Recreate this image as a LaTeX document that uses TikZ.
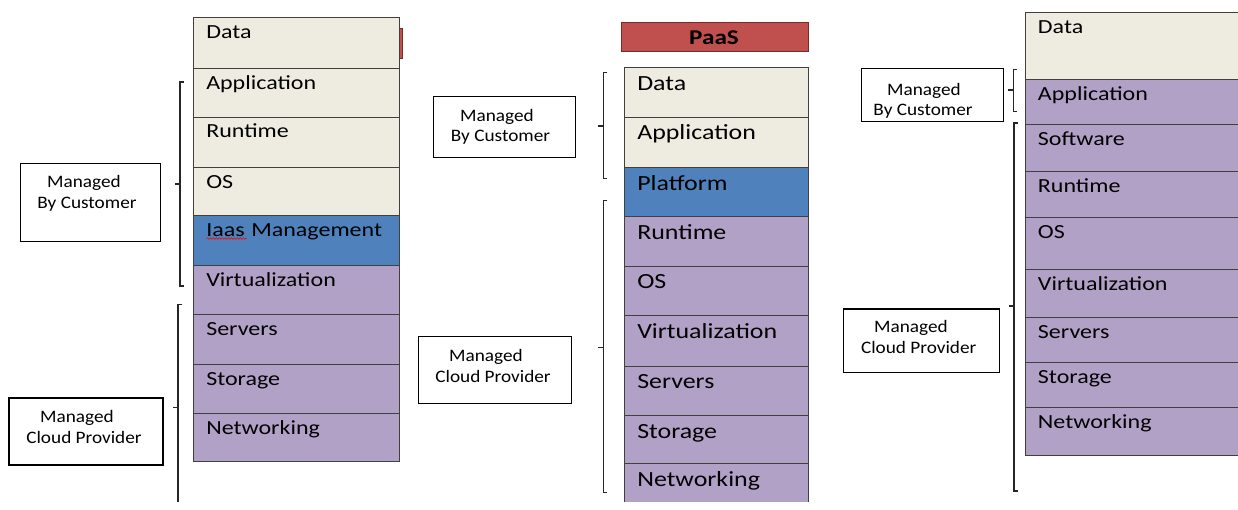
\documentclass[tikz,border=0pt]{standalone}
\usepackage{fontspec}
\usetikzlibrary{decorations.pathmorphing}

% Calibri-metric face, slightly widened
\newfontfamily\stackfont[FakeStretch=1.2]{Carlito}
\newfontfamily\boxfont[FakeStretch=1.1]{Carlito}

\definecolor{cream}{HTML}{EEECE1}
\definecolor{platblue}{HTML}{4F81BD}
\definecolor{lilac}{HTML}{B2A1C7}
\definecolor{headred}{HTML}{C0504D}
\definecolor{headedge}{HTML}{7A2A28}
\definecolor{rowline}{HTML}{404040}

\def\layerbase{21}
\def\layerfont{\stackfont\fontsize{20}{24}\selectfont}

\tikzset{
  layer/.style={draw=rowline, line width=0.9pt, anchor=north west,
    inner xsep=12.5pt, inner ysep=0pt, align=left,
    text height=\layerbase pt, font=\layerfont},
  side/.style={draw=black, line width=1.2pt, fill=white, anchor=north west,
    inner sep=0pt},
  sidetext/.style={font=\boxfont\fontsize{17.5}{20.7}\selectfont,
    anchor=base, inner sep=0pt},
  brace/.style={draw=black!85, line width=1.3pt},
  header/.style={draw=headedge, line width=1pt, fill=headred, anchor=north west,
    inner sep=0pt},
}

% one layer of a service stack: name, left, top, bottom, right, colour, text
\newcommand\layer[7]{%
  \pgfmathsetmacro\layerw{#5-#2-25}%
  \pgfmathsetmacro\layerd{#4-#3-\layerbase}%
  \node[layer, fill=#6, text width=\layerw pt, text depth=\layerd pt] (#1) at (#2,#3) {#7};%
}

% framed caption box: name, left, top, right, bottom
\newcommand\sidebox[5]{%
  \pgfmathsetmacro\sidew{#4-#2}%
  \pgfmathsetmacro\sideh{#5-#3}%
  \node[side, minimum width=\sidew pt, minimum height=\sideh pt] (#1) at (#2,#3) {};%
}

% square bracket with a centre stub: x, top, middle, bottom
\newcommand\bracketline[4]{%
  \draw[brace] (#1+4,#2) -- (#1,#2) -- (#1,#4) -- (#1+4,#4)
               (#1,#3) -- (#1-5,#3);%
}

\begin{document}
\begin{tikzpicture}[x=1pt, y=-1pt]
\fill[white] (0,0) rectangle (1238,509);
\useasboundingbox (0,0) rectangle (1238,509);

% ---------- IaaS stack ----------
\node[header, minimum width=208pt, minimum height=30pt] (iaashead) at (193.8,28) {};
\layer{iaData}{193.3}{17}{68}{399.3}{cream}{Data}
\layer{iaApp}{193.3}{68}{116.5}{399.3}{cream}{Application}
\layer{iaRun}{193.3}{116.5}{167}{399.3}{cream}{Runtime}
\layer{iaOS}{193.3}{167}{215}{399.3}{cream}{OS}
\layer{iaMgmt}{193.3}{215}{265}{399.3}{platblue}{Iaas Management}
\layer{iaVirt}{193.3}{265}{314}{399.3}{lilac}{Virtualization}
\layer{iaSrv}{193.3}{314}{364}{399.3}{lilac}{Servers}
\layer{iaSto}{193.3}{364}{412.7}{399.3}{lilac}{Storage}
\layer{iaNet}{193.3}{412.7}{460.7}{399.3}{lilac}{Networking}
\draw[red, line width=0.6pt, decorate,
      decoration={snake, amplitude=0.8pt, segment length=3pt}]
  (206.5,238.5) -- (246.5,238.5);

\bracketline{180}{82}{184}{286}
\bracketline{178}{304.5}{407.5}{530}
\sidebox{iaCust}{20}{162.7}{160}{241}
\node[sidetext] (iaCust-a) at (84,187.3) {Managed};
\node[sidetext] (iaCust-b) at (87,208) {By Customer};
\sidebox{iaProv}{8.3}{397.3}{162.3}{464.3}
\node[sidetext] (iaProv-a) at (77,422) {Managed};
\node[sidetext] (iaProv-b) at (84,443.3) {Cloud\ Provider};

% ---------- PaaS stack ----------
\node[header, minimum width=187.6pt, minimum height=29.3pt] (paashead) at (620.7,21.7) {};
\node[font=\stackfont\bfseries\fontsize{21}{25}\selectfont, inner sep=0pt]
  (paastitle) at (714,37.5) {PaaS};
\def\layerbase{22.7}
\def\layerfont{\stackfont\fontsize{21.6}{26}\selectfont}
\layer{paData}{624.3}{67.3}{116.7}{808.3}{cream}{Data}
\layer{paApp}{624.3}{116.7}{167.3}{808.3}{cream}{Application}
\layer{paPlat}{624.3}{167.3}{216}{808.3}{platblue}{Platform}
\layer{paRun}{624.3}{216}{265.7}{808.3}{lilac}{Runtime}
\layer{paOS}{624.3}{265.7}{315}{808.3}{lilac}{OS}
\layer{paVirt}{624.3}{315}{365.7}{808.3}{lilac}{Virtualization}
\layer{paSrv}{624.3}{365.7}{415.3}{808.3}{lilac}{Servers}
\layer{paSto}{624.3}{415.3}{463.3}{808.3}{lilac}{Storage}
\layer{paNet}{624.3}{463.3}{520}{808.3}{lilac}{Networking}

\bracketline{603.3}{72.7}{126}{178.3}
\bracketline{603.3}{200.7}{347.3}{492.7}
\sidebox{paCust}{432.7}{96}{575}{156.7}
\node[sidetext] (paCust-a) at (497,121) {Managed};
\node[sidetext] (paCust-b) at (500.5,141.7) {By Customer};
\sidebox{paProv}{418}{336}{571}{403}
\node[sidetext] (paProv-a) at (486,361) {Managed};
\node[sidetext] (paProv-b) at (493,382) {Cloud\ Provider};

% ---------- SaaS stack ----------
\def\layerbase{21}
\def\layerfont{\stackfont\fontsize{20}{24}\selectfont}
\layer{saData}{1025}{12.3}{79}{1237.5}{cream}{Data}
\layer{saApp}{1025}{79}{124}{1237.5}{lilac}{Application}
\layer{saSoft}{1025}{124}{171}{1237.5}{lilac}{Software}
\layer{saRun}{1025}{171}{216.7}{1237.5}{lilac}{Runtime}
\layer{saOS}{1025}{216.7}{269}{1237.5}{lilac}{OS}
\layer{saVirt}{1025}{269}{316.7}{1237.5}{lilac}{Virtualization}
\layer{saSrv}{1025}{316.7}{361.7}{1237.5}{lilac}{Servers}
\layer{saSto}{1025}{361.7}{406.7}{1237.5}{lilac}{Storage}
\layer{saNet}{1025}{406.7}{455}{1237.5}{lilac}{Networking}

\bracketline{1013.3}{69.3}{90}{111.7}
\bracketline{1014}{123}{306}{491}
\sidebox{saCust}{860.7}{67.7}{1002.7}{121}
\node[sidetext] (saCust-a) at (924,95) {Managed};
\node[sidetext] (saCust-b) at (923,115) {By Customer};
\sidebox{saProv}{842.7}{308.3}{999}{371.7}
\node[sidetext] (saProv-a) at (911,332.7) {Managed};
\node[sidetext] (saProv-b) at (918.7,353.3) {Cloud\ Provider};

% the sheet ends just below the last layers
\fill[white] (0,502) rectangle (1238,512);
\end{tikzpicture}
\end{document}
